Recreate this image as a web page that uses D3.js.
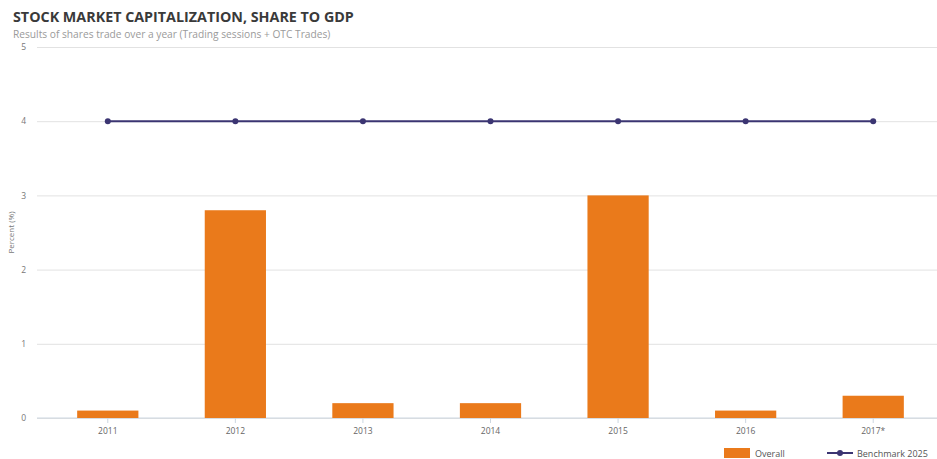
<!DOCTYPE html>
<html><head><meta charset="utf-8">
<script src="https://cdn.jsdelivr.net/npm/d3@7"></script>
<style>body{margin:0;background:#fff}svg{display:block}text{font-family:"Open Sans","DejaVu Sans",sans-serif}</style>
</head><body><svg id="c" width="937" height="459"></svg>
<script>
const categories = ["2011","2012","2013","2014","2015","2016","2017*"];
const overall = [0.1, 2.8, 0.2, 0.2, 3.0, 0.1, 0.3];
const benchmark = [4, 4, 4, 4, 4, 4, 4];
const yTicks = [0,1,2,3,4,5];

const svg = d3.select("#c");
const W = 937, H = 459;
const m = {l: 44, r: 0, t: 47, b: 41};
const x = d3.scaleBand().domain(categories).range([m.l, W - m.r]).paddingInner(0.52).paddingOuter(0.26);
const y = d3.scaleLinear().domain([0,5]).range([H - m.b, m.t]);

svg.append("text").attr("x", 13).attr("y", 22).attr("font-size", 14.3).attr("font-weight", "bold")
  .attr("fill", "#3a3a3a").text("STOCK MARKET CAPITALIZATION, SHARE TO GDP");
svg.append("text").attr("x", 13).attr("y", 38).attr("font-size", 10.2).attr("fill", "#9a9a9a")
  .text("Results of shares trade over a year (Trading sessions + OTC Trades)");

// grid
const grid = svg.append("g").attr("transform", `translate(37,0)`)
  .call(d3.axisLeft(y).tickValues(yTicks).tickSize(-(W - 37)).tickFormat(d3.format("d")));
grid.select(".domain").remove();
grid.selectAll(".tick line").attr("stroke", "#e2e2e2");
grid.selectAll(".tick text").attr("x", -11).attr("fill", "#777").attr("font-size", 8.5);

svg.append("text").attr("transform", `translate(14,${(y(0)+y(5))/2}) rotate(-90)`)
  .attr("text-anchor", "middle").attr("font-size", 8).attr("fill", "#777").text("Percent (%)");

// x axis
const xa = svg.append("g").attr("transform", `translate(0,${y(0)})`)
  .call(d3.axisBottom(x).tickSize(5).tickSizeOuter(0));
xa.select(".domain").attr("stroke", "#ccd6e0").attr("d", `M37,0H${W}`);
xa.selectAll(".tick line").attr("stroke", "#ccd6e0");
xa.selectAll(".tick text").attr("fill", "#666").attr("font-size", 8.5).attr("dy", "0.9em");

// bars
svg.append("g").selectAll("rect").data(overall).join("rect")
  .attr("x", (d,i) => x(categories[i])).attr("width", x.bandwidth())
  .attr("y", d => y(d)).attr("height", d => y(0) - y(d)).attr("fill", "#ea7a1b");

// line
const cx = (d,i) => x(categories[i]) + x.bandwidth()/2;
svg.append("path").datum(benchmark)
  .attr("d", d3.line().x(cx).y(d => y(d)))
  .attr("fill", "none").attr("stroke", "#3b3572").attr("stroke-width", 2);
svg.append("g").selectAll("circle").data(benchmark).join("circle")
  .attr("cx", cx).attr("cy", d => y(d)).attr("r", 3).attr("fill", "#3b3572");

// legend
const lg = svg.append("g");
lg.append("rect").attr("x", 724).attr("y", 448).attr("width", 26).attr("height", 10).attr("fill", "#ea7a1b");
lg.append("text").attr("x", 755).attr("y", 457).attr("font-size", 9).attr("fill", "#555").text("Overall");
lg.append("line").attr("x1", 827).attr("x2", 853).attr("y1", 453).attr("y2", 453).attr("stroke", "#3b3572").attr("stroke-width", 2);
lg.append("circle").attr("cx", 840).attr("cy", 453).attr("r", 3).attr("fill", "#3b3572");
lg.append("text").attr("x", 857).attr("y", 457).attr("font-size", 9).attr("fill", "#555").text("Benchmark 2025");
</script></body></html>
